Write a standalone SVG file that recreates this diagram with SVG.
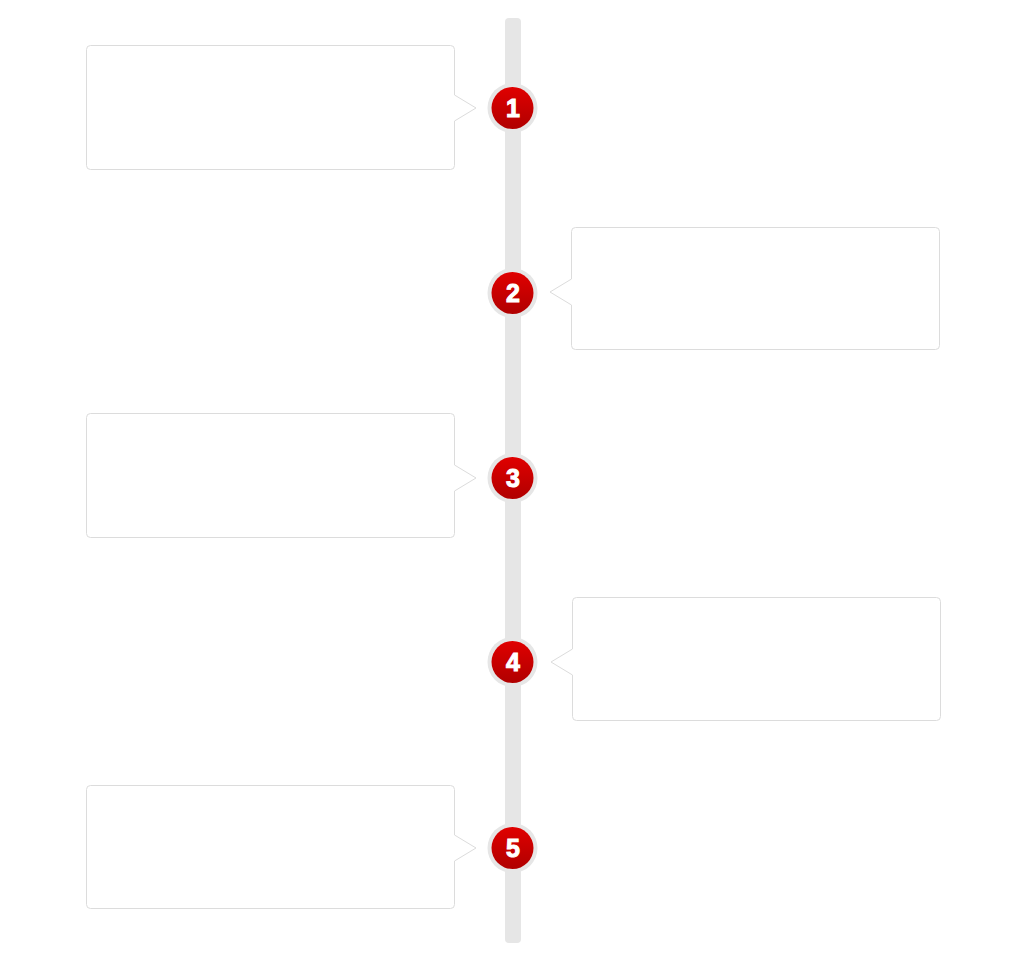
<svg xmlns="http://www.w3.org/2000/svg" width="1022" height="962" viewBox="0 0 1022 962">
<defs>
<linearGradient id="red" x1="0" y1="0" x2="0" y2="1">
<stop offset="0" stop-color="#e00000"/>
<stop offset="1" stop-color="#b00000"/>
</linearGradient>
</defs>
<style>
.box{fill:#ffffff;stroke:#dcdcdc;stroke-width:1}
.ring{fill:#e6e6e6}
.dot{fill:url(#red)}
.num{font-family:"Liberation Sans",Arial,sans-serif;font-weight:bold;font-size:25px;fill:#ffffff;stroke:#ffffff;stroke-width:1;text-anchor:middle}
</style>
<rect width="1022" height="962" fill="#ffffff"/>
<g id="connectors">
<rect x="505" y="18" width="16" height="925" rx="4" fill="#e6e6e6"/>
</g>
<g id="box1"><path class="box" d="M90.5,45.5 H450.5 Q454.5,45.5 454.5,49.5 V95 L476,108 L454.5,121 V165.5 Q454.5,169.5 450.5,169.5 H90.5 Q86.5,169.5 86.5,165.5 V49.5 Q86.5,45.5 90.5,45.5 Z"/></g>
<g id="box2"><path class="box" d="M575.5,227.5 H935.5 Q939.5,227.5 939.5,231.5 V345.5 Q939.5,349.5 935.5,349.5 H575.5 Q571.5,349.5 571.5,345.5 V305 L550,292 L571.5,279 V231.5 Q571.5,227.5 575.5,227.5 Z"/></g>
<g id="box3"><path class="box" d="M90.5,413.5 H450.5 Q454.5,413.5 454.5,417.5 V465 L476,478 L454.5,491 V533.5 Q454.5,537.5 450.5,537.5 H90.5 Q86.5,537.5 86.5,533.5 V417.5 Q86.5,413.5 90.5,413.5 Z"/></g>
<g id="box4"><path class="box" d="M576.5,597.5 H936.5 Q940.5,597.5 940.5,601.5 V716.5 Q940.5,720.5 936.5,720.5 H576.5 Q572.5,720.5 572.5,716.5 V675 L551,662 L572.5,649 V601.5 Q572.5,597.5 576.5,597.5 Z"/></g>
<g id="box5"><path class="box" d="M90.5,785.5 H450.5 Q454.5,785.5 454.5,789.5 V835 L476,848 L454.5,861 V904.5 Q454.5,908.5 450.5,908.5 H90.5 Q86.5,908.5 86.5,904.5 V789.5 Q86.5,785.5 90.5,785.5 Z"/></g>
<g id="step1"><circle class="ring" cx="512.5" cy="108" r="25"/><circle class="dot" cx="512.5" cy="108" r="21"/><text class="num" x="513" y="117">1</text></g>
<g id="step2"><circle class="ring" cx="512.5" cy="293" r="25"/><circle class="dot" cx="512.5" cy="293" r="21"/><text class="num" x="513" y="302">2</text></g>
<g id="step3"><circle class="ring" cx="512.5" cy="478" r="25"/><circle class="dot" cx="512.5" cy="478" r="21"/><text class="num" x="513" y="487">3</text></g>
<g id="step4"><circle class="ring" cx="512.5" cy="662" r="25"/><circle class="dot" cx="512.5" cy="662" r="21"/><text class="num" x="513" y="671">4</text></g>
<g id="step5"><circle class="ring" cx="512.5" cy="848" r="25"/><circle class="dot" cx="512.5" cy="848" r="21"/><text class="num" x="513" y="857">5</text></g>
</svg>
